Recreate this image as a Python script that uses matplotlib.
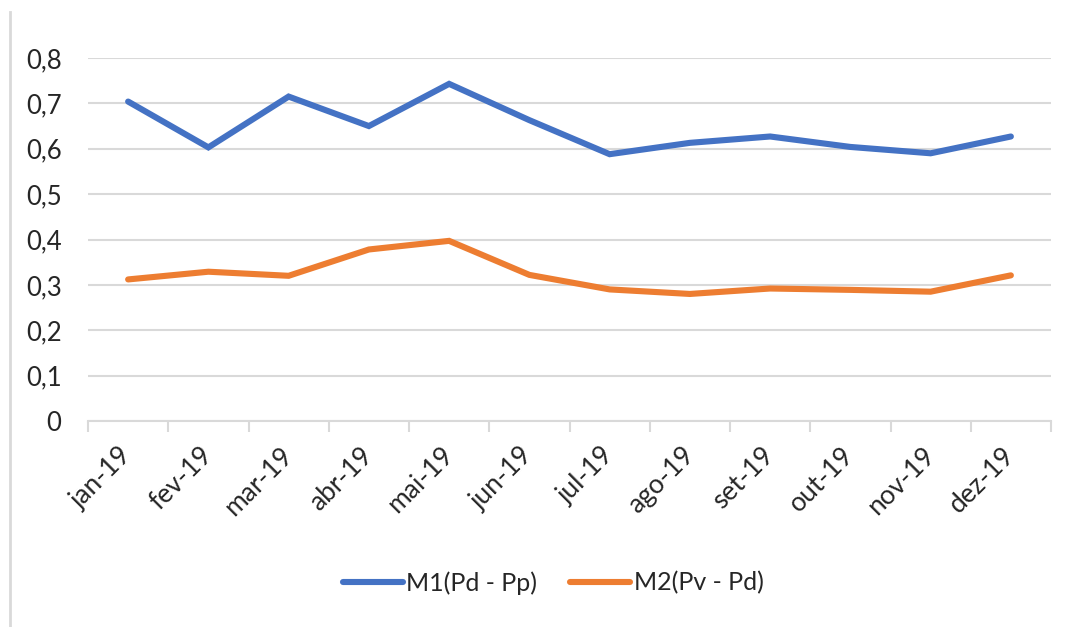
import numpy as np
import matplotlib.pyplot as plt
from matplotlib.lines import Line2D
from matplotlib.ticker import FuncFormatter

# Dados
meses = ['jan-19', 'fev-19', 'mar-19', 'abr-19', 'mai-19', 'jun-19',
         'jul-19', 'ago-19', 'set-19', 'out-19', 'nov-19', 'dez-19']
m1 = [0.704, 0.603, 0.715, 0.650, 0.743, 0.663, 0.588, 0.613, 0.627, 0.604, 0.590, 0.627]
m2 = [0.312, 0.329, 0.320, 0.378, 0.397, 0.322, 0.290, 0.280, 0.292, 0.289, 0.285, 0.321]
nomes = ['M1(Pd - Pp)', 'M2(Pv - Pd)']
cores = ['#4472C4', '#ED7D31']

plt.rcParams['font.family'] = ['Lato', 'DejaVu Sans']
cinza = '#d9d9d9'
texto = '#262626'

fig = plt.figure(figsize=(10.72, 6.27), dpi=100)
ax = fig.add_axes([88/1072, 1 - 421/627, (1051 - 88)/1072, (421 - 58)/627])

x = np.arange(len(meses))
ax.plot(x, m1, color=cores[0], lw=4.4, label=nomes[0], solid_capstyle='round', solid_joinstyle='miter')
ax.plot(x, m2, color=cores[1], lw=4.4, label=nomes[1], solid_capstyle='round', solid_joinstyle='miter')

ax.set_xlim(-0.5, len(meses) - 0.5)
ax.set_ylim(0, 0.8)
ax.set_yticks(np.arange(0, 0.81, 0.1))
ax.yaxis.set_major_formatter(FuncFormatter(lambda v, p: '0' if abs(v) < 1e-9 else f'{v:.1f}'.replace('.', ',')))
ax.grid(axis='y', color=cinza, lw=1.5)
ax.set_axisbelow(True)

ax.set_xticks(x)
ax.set_xticklabels(meses, rotation=45, ha='right', va='center', rotation_mode='anchor')
ax.set_xticks(np.arange(-0.5, len(meses), 1), minor=True)
ax.tick_params(axis='x', which='major', length=0, pad=22, labelsize=19, labelcolor=texto)
ax.tick_params(axis='x', which='minor', length=8, width=1.5, color=cinza)
ax.tick_params(axis='y', length=0, pad=19, labelsize=18.5, labelcolor=texto)

for lado in ['top', 'right', 'left']:
    ax.spines[lado].set_visible(False)
ax.spines['bottom'].set_color(cinza)
ax.spines['bottom'].set_linewidth(1.5)

fig.legend(loc='center', bbox_to_anchor=(553/1072, 1 - 583/627), ncol=2, frameon=False,
           fontsize=18, handlelength=2.4, handletextpad=0.15, columnspacing=1.3,
           labelcolor=texto)

# borda esquerda do gráfico
fig.add_artist(Line2D([10/1072, 10/1072], [0, 1 - 12/627], transform=fig.transFigure, color=cinza, lw=2))

fig.savefig('out.png', dpi=100)
